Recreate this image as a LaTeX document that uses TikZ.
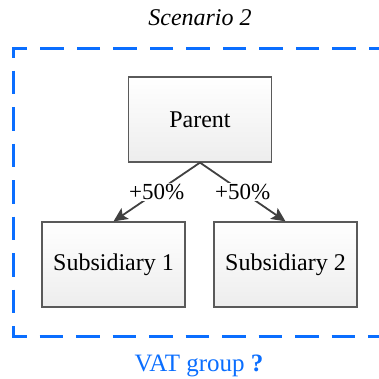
\documentclass[tikz,border=0pt]{standalone}
\usepackage{fontspec}
\setmainfont{Liberation Serif}
\usetikzlibrary{arrows.meta}
\definecolor{vatblue}{RGB}{10,110,255}
\definecolor{conn}{RGB}{64,64,64}
\definecolor{boxgray}{RGB}{90,90,90}
\begin{document}
\begin{tikzpicture}[x=1pt,y=-1pt,
  entity/.style={draw=boxgray, line width=1.2pt, top color=white, bottom color=black!7,
    minimum width=143pt, minimum height=85pt, inner sep=0pt, font=\fontsize{24}{28}\selectfont},
  link/.style={draw=conn, line width=1.8pt, -{Stealth[length=14pt,width=13pt,inset=3pt]}},
  lbl/.style={fill=white, inner sep=1pt, text=black, font=\fontsize{23}{27}\selectfont},
  group/.style={draw=vatblue, line width=3pt, dash pattern=on 23.5pt off 13pt, dash phase=28.5pt}]
\useasboundingbox (0,0) rectangle (379,378);
\begin{scope}
\clip (0,0) rectangle (379,378);
\draw[group] (400,48) -- (13,48) -- (13,336) -- (400,336);
\end{scope}
\node[font=\fontsize{24}{28}\selectfont\itshape] (title) at (200,18) {Scenario 2};
\node[entity] (parent) at (200,119.5) {Parent};
\node[entity] (sub1) at (113.5,264.5) {Subsidiary 1};
\node[entity] (sub2) at (285.5,264.5) {Subsidiary 2};
\draw[link] (parent.south) -- node[lbl] {+50\%} (sub1.north);
\draw[link] (parent.south) -- node[lbl] {+50\%} (sub2.north);
\node[text=vatblue, font=\fontsize{25}{29}\selectfont] (vat) at (199,366) {VAT group \textbf{?}};
\end{tikzpicture}
\end{document}
